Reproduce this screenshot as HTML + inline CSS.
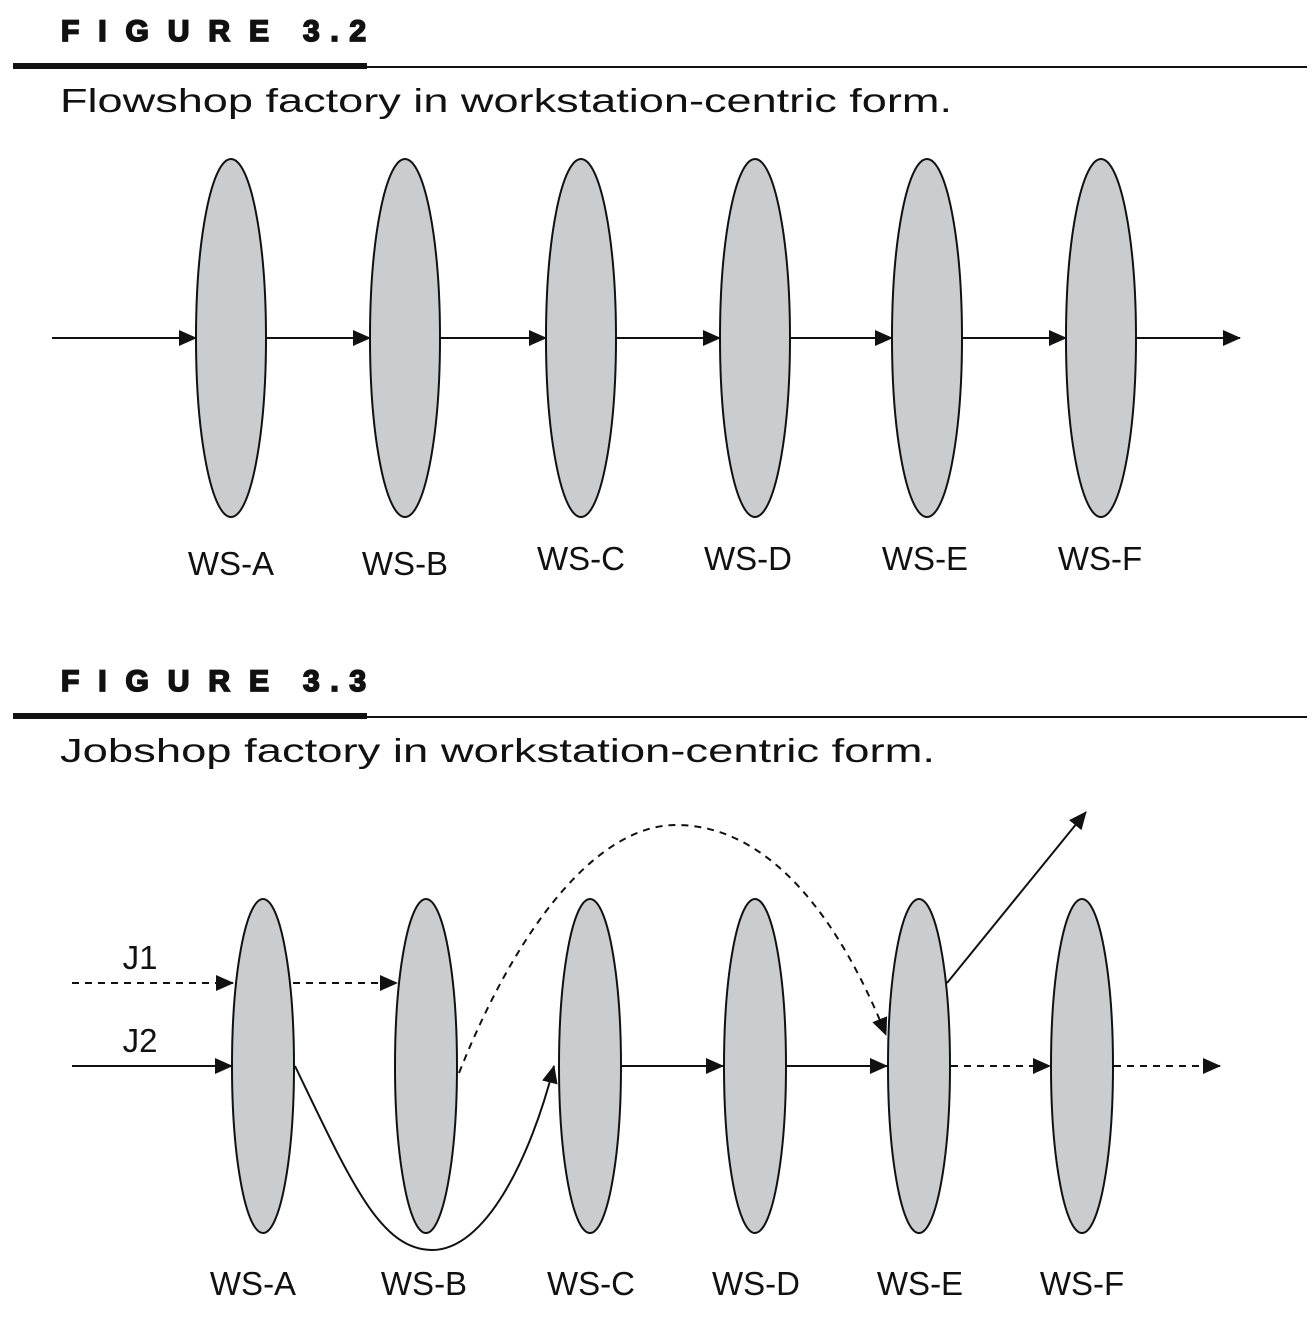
<!DOCTYPE html>
<html><head><meta charset="utf-8"><style>
body{margin:0;background:#fff}
svg{display:block}
text{font-family:"Liberation Sans",Arial,sans-serif;fill:#111}
.hd{font-weight:bold;font-size:30px;stroke:#111;stroke-width:1.8px}
.cap{font-size:33px}
.lb{font-size:33px;text-anchor:middle}
</style></head><body>
<svg width="1312" height="1328" viewBox="0 0 1312 1328">
<defs>
<marker id="a2" markerWidth="18" markerHeight="16" refX="17" refY="8" orient="auto" markerUnits="userSpaceOnUse" viewBox="0 0 18 16"><path d="M0,0L18,8L0,16z" fill="#111"/></marker></defs>
<g>
<g>
<text x="61" y="41" class="hd" textLength="208" lengthAdjust="spacing">FIGURE</text>
<text x="303" y="41" class="hd" textLength="63" lengthAdjust="spacing">3.2</text>
</g>
<rect x="13" y="63" width="354" height="6" fill="#111"/>
<rect x="367" y="66" width="940" height="2" fill="#111"/>
<text x="60" y="112" class="cap" textLength="892" lengthAdjust="spacingAndGlyphs">Flowshop factory in workstation-centric form.</text>
<g stroke="#111" stroke-width="2" fill="none" marker-end="url(#a2)">
<line x1="52" y1="338" x2="196" y2="338"/><line x1="266" y1="338" x2="370" y2="338"/><line x1="440" y1="338" x2="546" y2="338"/><line x1="616" y1="338" x2="720" y2="338"/><line x1="790" y1="338" x2="892" y2="338"/><line x1="962" y1="338" x2="1066" y2="338"/><line x1="1136" y1="338" x2="1240" y2="338"/>
</g>
<g fill="#cbcccd" stroke="#111" stroke-width="2">
<ellipse cx="231" cy="338" rx="35" ry="179"/>
<ellipse cx="405" cy="338" rx="35" ry="179"/>
<ellipse cx="581" cy="338" rx="35" ry="179"/>
<ellipse cx="755" cy="338" rx="35" ry="179"/>
<ellipse cx="927" cy="338" rx="35" ry="179"/>
<ellipse cx="1101" cy="338" rx="35" ry="179"/>
</g>
<text class="lb" x="231" y="575">WS-A</text><text class="lb" x="405" y="575">WS-B</text><text class="lb" x="581" y="570">WS-C</text><text class="lb" x="748" y="570">WS-D</text><text class="lb" x="925" y="570">WS-E</text><text class="lb" x="1100" y="570">WS-F</text>
</g>
<g>
<g>
<text x="61" y="691" class="hd" textLength="208" lengthAdjust="spacing">FIGURE</text>
<text x="303" y="691" class="hd" textLength="63" lengthAdjust="spacing">3.3</text>
</g>
<rect x="13" y="713" width="354" height="6" fill="#111"/>
<rect x="367" y="716" width="940" height="2" fill="#111"/>
<text x="60" y="762" class="cap" textLength="875" lengthAdjust="spacingAndGlyphs">Jobshop factory in workstation-centric form.</text>
<g fill="#cbcccd" stroke="#111" stroke-width="2">
<ellipse cx="263" cy="1066" rx="31" ry="167"/><ellipse cx="426" cy="1066" rx="31" ry="167"/><ellipse cx="590" cy="1066" rx="31" ry="167"/><ellipse cx="755" cy="1066" rx="31" ry="167"/><ellipse cx="919" cy="1066" rx="31" ry="167"/><ellipse cx="1082" cy="1066" rx="31" ry="167"/>
</g>
<g stroke="#111" stroke-width="2" fill="none" marker-end="url(#a2)">
<line x1="72" y1="1066" x2="232" y2="1066"/>
<path d="M295,1066 C350,1180 380,1250 432,1250 C485,1250 530,1160 554,1066"/>
<line x1="621" y1="1066" x2="723" y2="1066"/><line x1="786" y1="1066" x2="887" y2="1066"/>
<line x1="947" y1="983" x2="1086" y2="812"/>
</g>
<g stroke="#111" stroke-width="2" fill="none" stroke-dasharray="7,6" marker-end="url(#a2)">
<line x1="72" y1="983" x2="233" y2="983"/><line x1="293" y1="983" x2="397" y2="983"/>
<path d="M459,1073 C520,920 600,825 676,825 C770,825 840,920 886,1035"/>
<line x1="951" y1="1066" x2="1050" y2="1066"/><line x1="1114" y1="1066" x2="1220" y2="1066"/>
</g>
<text x="140" y="969" class="lb">J1</text>
<text x="140" y="1052" class="lb">J2</text>
<text class="lb" x="253" y="1295">WS-A</text><text class="lb" x="424" y="1295">WS-B</text><text class="lb" x="591" y="1295">WS-C</text><text class="lb" x="756" y="1295">WS-D</text><text class="lb" x="920" y="1295">WS-E</text><text class="lb" x="1082" y="1295">WS-F</text>
</g>
</svg>
</body></html>
